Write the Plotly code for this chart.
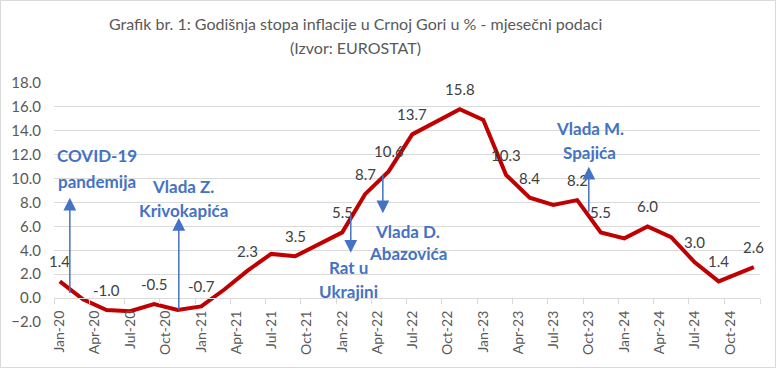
import plotly.graph_objects as go

# ---------------- data ----------------
months = ["2020-01", "2020-03", "2020-05", "2020-07", "2020-09", "2020-11",
          "2021-01", "2021-03", "2021-05", "2021-07", "2021-09", "2021-11",
          "2022-01", "2022-03", "2022-05", "2022-07", "2022-09", "2022-11",
          "2023-01", "2023-03", "2023-05", "2023-07", "2023-09", "2023-11",
          "2024-01", "2024-03", "2024-05", "2024-07", "2024-09", "2024-12"]
inflation = [1.4, -0.1, -1.0, -1.1, -0.5, -1.0,
             -0.7, 0.7, 2.3, 3.7, 3.5, 4.5,
             5.5, 8.7, 10.6, 13.7, 14.8, 15.8,
             14.9, 10.3, 8.4, 7.8, 8.2, 5.5,
             5.0, 6.0, 5.1, 3.0, 1.4, 2.6]
show_label = [1, 0, 1, 0, 1, 0,
              1, 0, 1, 0, 1, 0,
              1, 1, 1, 1, 0, 1,
              0, 1, 1, 0, 1, 1,
              0, 1, 0, 1, 1, 1]

tick_months = ["2020-01", "2020-04", "2020-07", "2020-10",
               "2021-01", "2021-04", "2021-07", "2021-10",
               "2022-01", "2022-04", "2022-07", "2022-10",
               "2023-01", "2023-04", "2023-07", "2023-10",
               "2024-01", "2024-04", "2024-07", "2024-10"]
tick_labels = ["Jan-20", "Apr-20", "Jul-20", "Oct-20",
               "Jan-21", "Apr-21", "Jul-21", "Oct-21",
               "Jan-22", "Apr-22", "Jul-22", "Oct-22",
               "Jan-23", "Apr-23", "Jul-23", "Oct-23",
               "Jan-24", "Apr-24", "Jul-24", "Oct-24"]

event_lines = [["COVID-19", "pandemija"], ["Vlada Z.", "Krivokapića"],
               ["Rat u", "Ukrajini"], ["Vlada D.", "Abazovića"],
               ["Vlada M.", "Spajića"]]

# ---------------- layout / annotation placement ----------------
event_arrow_x = ["2020-02-11", "2020-11-19", "2022-02-07", "2022-05-01", "2023-10-16"]
event_arrow_tail = [0.3, -1.1, 7.1, 10.4, 7.1]
event_arrow_head = [8.4, 6.7, 3.8, 7.1, 11.0]
event_text_x = ["2020-04-20", "2020-12-01", "2022-02-02", "2022-07-04", "2023-10-18"]
event_text_y1 = [11.9, 9.3, 2.6, 5.6, 14.2]
event_text_y2 = [9.75, 7.35, 0.55, 3.7, 12.2]

FONT = "Lato, 'Open Sans', sans-serif"
ML, MR, MT, MB = 54, 16, 83, 46
W, H = 776, 368
pw, ph = W - ML - MR, H - MT - MB

xs = [m + "-16" for m in months]
tick_x = [m + "-16" for m in tick_months]

fig = go.Figure()
fig.add_trace(go.Scatter(
    x=xs, y=inflation, mode="lines",
    line=dict(color="#C00000", width=4),
    hoverinfo="skip", showlegend=False,
))

annotations = []
for x, y, f in zip(xs, inflation, show_label):
    if f:
        annotations.append(dict(
            x=x, y=y, xref="x", yref="y", text=f"{y:.1f}", showarrow=False,
            yshift=20, font=dict(family=FONT, size=15, color="#404040"),
        ))

for ax_, tail, head, tx, ty1, ty2, lines in zip(event_arrow_x, event_arrow_tail, event_arrow_head,
                                                event_text_x, event_text_y1, event_text_y2, event_lines):
    annotations.append(dict(
        x=ax_, y=head, ax=ax_, ay=tail, xref="x", yref="y", axref="x", ayref="y",
        text="", showarrow=True, arrowhead=2, arrowsize=1.7, arrowwidth=1.5,
        arrowcolor="#4472C4", standoff=0, startstandoff=0,
    ))
    for ty, txt in zip([ty1, ty2], lines):
        annotations.append(dict(
            x=tx, y=ty, xref="x", yref="y", text=txt, showarrow=False,
            font=dict(family=FONT, size=17, color="#4472C4", weight="bold"),
            xanchor="center", yanchor="middle",
        ))

# title lines
title_lines = ["Grafik br. 1: Godišnja stopa inflacije u Crnoj Gori u % - mjesečni podaci",
               "(Izvor: EUROSTAT)"]
for line, py in zip(title_lines, [23, 47]):
    annotations.append(dict(
        x=(355 - ML) / pw, y=(H - MB - py) / ph, xref="paper", yref="paper",
        text=line, showarrow=False, xanchor="center", yanchor="middle",
        font=dict(family=FONT, size=16, color="#595959"),
    ))

fig.update_layout(
    width=W, height=H,
    margin=dict(l=ML, r=MR, t=MT, b=MB, autoexpand=False),
    paper_bgcolor="white", plot_bgcolor="white",
    annotations=annotations,
    showlegend=False,
    shapes=[dict(type="rect", xref="paper", yref="paper",
                 x0=(0.5 - ML) / pw, x1=(W - 0.5 - ML) / pw,
                 y0=(H - MB - (H - 0.5)) / ph, y1=(H - MB - 0.5) / ph,
                 line=dict(color="#D9D9D9", width=1), layer="below")],
)

fig.update_yaxes(
    range=[-2, 18], dtick=2, tick0=0, tickformat=".1f", automargin=False,
    showgrid=True, gridcolor="#D9D9D9", gridwidth=1,
    zeroline=False, showline=False, ticks="",
    tickfont=dict(family=FONT, size=15, color="#595959"),
    ticklabelstandoff=12,
)

fig.update_xaxes(
    type="date", range=["2020-01-01", "2025-01-01"], automargin=False,
    anchor="free", position=0.1,
    showline=True, linecolor="#D9D9D9", linewidth=1,
    tickmode="array", tickvals=tick_x, ticktext=tick_labels,
    tickangle=-90, ticks="", showgrid=False, zeroline=False,
    tickfont=dict(family=FONT, size=14, color="#595959"),
    ticklabelstandoff=6,
    minor=dict(ticks="outside", ticklen=5, tickcolor="#D9D9D9",
               tickmode="linear", tick0="2020-01-01", dtick="M3", showgrid=False),
)

fig.write_html(
    "out.html",
    config={"displayModeBar": False, "staticPlot": True},
    post_script="document.body.style.margin='0';document.body.style.overflow='hidden';",
)
